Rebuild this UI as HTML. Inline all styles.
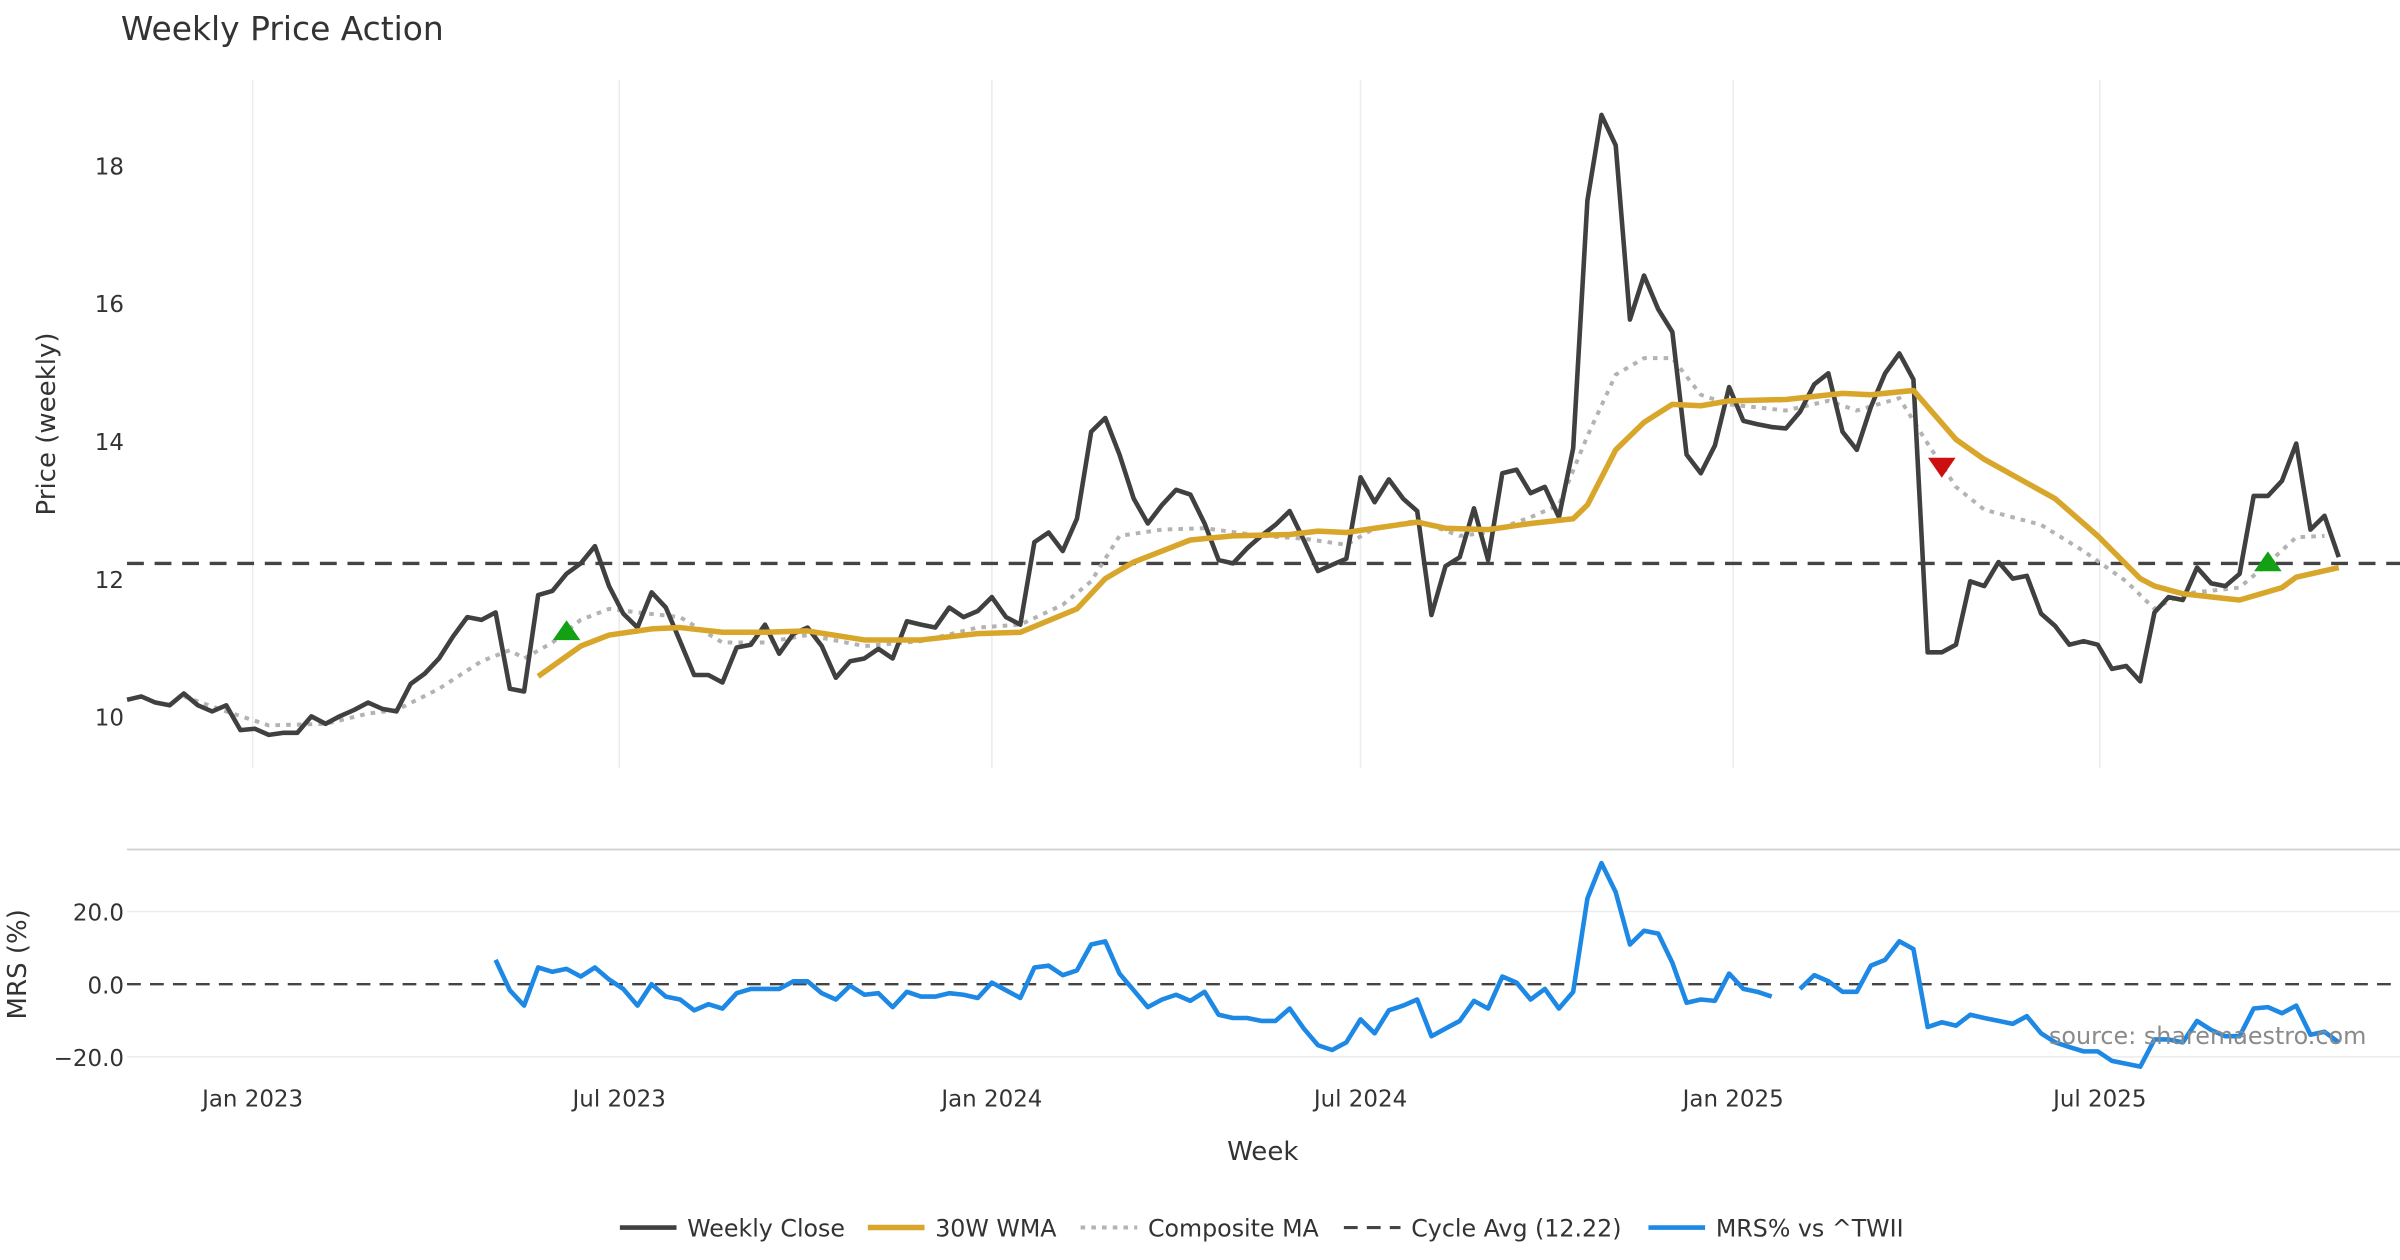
<!DOCTYPE html>
<html><head><meta charset="utf-8"><style>
html,body{margin:0;padding:0;background:#fff;}
svg{display:block;font-family:"DejaVu Sans","Liberation Sans",sans-serif;}
</style></head><body>
<svg id="chart" width="2400" height="1260" viewBox="0 0 1568 823.2" xmlns="http://www.w3.org/2000/svg">
<text x="79" y="26" font-size="21.5" fill="#333">Weekly Price Action</text>
<g id="grid"></g>
<g id="series"></g>
<text transform="translate(36,277) rotate(-90)" text-anchor="middle" font-size="17" fill="#333">Price (weekly)</text>
<text transform="translate(17,630) rotate(-90)" text-anchor="middle" font-size="17" fill="#333">MRS (%)</text>
<text x="825" y="758" text-anchor="middle" font-size="17" fill="#333">Week</text>
<text x="1546" y="682" text-anchor="end" font-size="15.6" fill="#8a8a8a">source: sharemaestro.com</text>
<g id="legend"></g>
</svg>
<script>
const startDate = "2022-10-31";
const closeValues = [10.24,10.29,10.20,10.16,10.33,10.16,10.07,10.16,9.80,9.82,
9.73,9.76,9.76,10.00,9.89,10.00,10.09,10.20,10.11,10.07,
10.47,10.62,10.84,11.16,11.44,11.40,11.51,10.40,10.36,11.76,
11.82,12.07,12.22,12.47,11.89,11.49,11.29,11.80,11.58,11.09,
10.60,10.60,10.49,11.00,11.04,11.33,10.91,11.20,11.29,11.02,
10.56,10.80,10.84,10.98,10.84,11.38,11.33,11.29,11.58,11.44,
11.53,11.73,11.44,11.33,12.53,12.67,12.40,12.87,14.13,14.33,
13.80,13.16,12.80,13.07,13.29,13.22,12.80,12.27,12.22,12.44,
12.62,12.78,12.98,12.56,12.11,12.20,12.29,13.47,13.11,13.44,
13.16,12.98,11.47,12.18,12.31,13.02,12.27,13.53,13.58,13.24,
13.33,12.89,13.89,17.49,18.73,18.29,15.76,16.40,15.91,15.58,
13.80,13.53,13.93,14.78,14.29,14.24,14.20,14.18,14.42,14.82,
14.98,14.13,13.87,14.49,14.98,15.27,14.89,10.93,10.93,11.04,
11.96,11.89,12.24,12.00,12.04,11.49,11.31,11.04,11.09,11.04,
10.69,10.73,10.51,11.51,11.73,11.69,12.16,11.93,11.89,12.07,
13.20,13.20,13.42,13.96,12.71,12.91,12.31];
const wmaWeeks = [29,32,34,37,39,42,45,48,52,56,60,63,67,69,71,75,78,82,84,86,88,91,93,96,99,102,103,105,107,109,111,113,117,121,123,126,129,131,136,139,142,143,145,148,149,152,153,156];
const wmaValues = [10.58,11.02,11.18,11.27,11.29,11.22,11.22,11.24,11.11,11.11,11.20,11.22,11.56,12.00,12.24,12.56,12.62,12.64,12.69,12.67,12.73,12.82,12.73,12.71,12.80,12.87,13.07,13.87,14.27,14.53,14.51,14.58,14.60,14.69,14.67,14.73,14.02,13.73,13.16,12.62,12.00,11.89,11.78,11.71,11.69,11.87,12.02,12.16];
const compWeeks = [4,7,10,14,17,19,22,25,27,28,30,32,34,36,39,42,45,48,52,56,60,63,66,68,70,73,76,80,83,86,88,91,94,96,99,101,103,105,107,109,111,113,117,120,122,125,127,129,131,135,138,141,143,145,149,151,153,155];
const compValues = [10.29,10.07,9.87,9.89,10.04,10.09,10.40,10.80,10.96,10.84,11.07,11.40,11.56,11.51,11.44,11.07,11.07,11.18,11.02,11.09,11.29,11.33,11.62,11.96,12.62,12.71,12.73,12.62,12.58,12.49,12.73,12.84,12.62,12.67,12.89,13.07,14.07,14.96,15.20,15.20,14.67,14.53,14.44,14.58,14.44,14.62,13.96,13.33,13.00,12.78,12.40,11.96,11.56,11.78,11.87,12.22,12.60,12.62];
const cycleAvg = 12.22;
const mrsStart = 26;
const mrsValues = [6.7,-1.7,-5.9,4.6,3.4,4.2,2.1,4.6,1.3,-1.3,
-5.9,0,-3.4,-4.2,-7.2,-5.5,-6.7,-2.5,-1.3,-1.3,
-1.3,0.8,0.8,-2.5,-4.2,-0.4,-2.9,-2.5,-6.3,-2.1,
-3.4,-3.4,-2.5,-2.9,-3.8,0.4,-1.7,-3.8,4.6,5.1,
2.5,3.8,10.9,11.8,2.9,-1.7,-6.3,-4.2,-2.9,-4.6,
-2.1,-8.4,-9.3,-9.3,-10.1,-10.1,-6.7,-12.2,-16.8,-18.1,
-16.0,-9.7,-13.5,-7.2,-5.9,-4.2,-14.3,-12.2,-10.1,-4.6,
-6.7,2.1,0.4,-4.2,-1.3,-6.7,-2.1,23.6,33.3,25.3,
10.9,14.7,13.9,5.9,-5.1,-4.2,-4.6,2.9,-1.3,-2.1,
-3.4,null,
-1.3,2.5,0.8,-2.1,-2.1,5.1,6.7,11.8,9.7,-11.8,
-10.5,-11.4,-8.4,-9.3,-10.1,-10.9,-8.8,-13.5,-16.0,-17.3,
-18.5,-18.5,-21.1,-21.9,-22.7,-15.2,-15.2,-16.0,-10.1,-12.6,
-14.3,-14.3,-6.7,-6.3,-8.0,-5.9,-13.9,-13.1,-16.0];
const buyWeeks = [31,151];
const buyPrices = [11.24,12.24];
const sellWeeks = [128];
const sellPrices = [13.62];
const xTickLabels = ["Jan 2023","Jul 2023","Jan 2024","Jul 2024","Jan 2025","Jul 2025"];
const xTickDates = ["2023-01-01","2023-07-01","2024-01-01","2024-07-01","2025-01-01","2025-07-01"];
const priceTicks = [10,12,14,16,18];
const mrsTicks = [20,0,-20];
const mrsTickLabels = ["20.0","0.0","\u221220.0"];

const NS="http://www.w3.org/2000/svg";
const X0=83, STEP=(1528-83)/156;
function xW(i){return X0+i*STEP;}
function xDate(s){return xW((Date.parse(s)-Date.parse(startDate))/864e5/7);}
function yP(p){return 468-(p-10)*45;}
function yM(v){return 643-v*2.375;}
function mk(tag,attrs,parent){const e=document.createElementNS(NS,tag);for(const k in attrs)e.setAttribute(k,attrs[k]);parent.appendChild(e);return e;}
const grid=document.getElementById('grid'), ser=document.getElementById('series'), leg=document.getElementById('legend');

xTickLabels.forEach((lab,k)=>{
  const x=xDate(xTickDates[k]);
  const l=mk('line',{x1:x,x2:x,y1:52,y2:502,stroke:'#ececec','stroke-width':1},grid);
  
  
  const t=mk('text',{x:x,y:723,'text-anchor':'middle','font-size':15,fill:'#333'},grid);
  t.textContent=lab;
  
  
});
priceTicks.forEach(p=>{
  const t=mk('text',{x:81,y:yP(p)+6,'text-anchor':'end','font-size':15,fill:'#333'},grid);
  t.textContent=p;
  
  
});
const sep=mk('line',{x1:83,x2:1568,y1:555,y2:555,stroke:'#cfcfcf','stroke-width':1.2},grid);


mrsTicks.forEach((v,k)=>{
  if(v!==0){const g=mk('line',{x1:83,x2:1568,y1:yM(v),y2:yM(v),stroke:'#ececec','stroke-width':1},grid);
  
  }
  const t=mk('text',{x:81,y:yM(v)+6,'text-anchor':'end','font-size':15,fill:'#333'},grid);
  t.textContent=mrsTickLabels[k];
  
  
});
const z=mk('line',{x1:83,x2:1568,y1:yM(0),y2:yM(0),stroke:'#444','stroke-width':1.6,'stroke-dasharray':'9,6'},grid);



const cyc=mk('line',{x1:83,x2:1568,y1:yP(cycleAvg),y2:yP(cycleAvg),stroke:'#444','stroke-width':2.2,'stroke-dasharray':'11,7'},ser);



function pts(ws,vs,yf){return ws.map((w,k)=>xW(w).toFixed(1)+','+yf(vs[k]).toFixed(1)).join(' ');}
const comp=mk('polyline',{points:pts(compWeeks,compValues,yP),fill:'none',stroke:'#b3b3b3','stroke-width':2.6,'stroke-dasharray':'3,4'},ser);


const cw=closeValues.map((v,i)=>i);
const cl=mk('polyline',{points:pts(cw,closeValues,yP),fill:'none',stroke:'#404040','stroke-width':3,'stroke-linejoin':'round'},ser);


const wma=mk('polyline',{points:pts(wmaWeeks,wmaValues,yP),fill:'none',stroke:'#d8a62a','stroke-width':3.6,'stroke-linejoin':'round'},ser);



let segs=[],cur=[];
mrsValues.forEach((v,k)=>{if(v===null){if(cur.length)segs.push(cur);cur=[];}else cur.push(xW(mrsStart+k).toFixed(1)+','+yM(v).toFixed(1));});
if(cur.length)segs.push(cur);
segs.forEach(s=>{
  const m=mk('polyline',{points:s.join(' '),fill:'none',stroke:'#1e88e5','stroke-width':3,'stroke-linejoin':'round'},ser);
  
  
});
buyWeeks.forEach((w,k)=>{
  const x=xW(w),y=yP(buyPrices[k]);
  const t=mk('polygon',{points:`${x-9},${y+6} ${x+9},${y+6} ${x},${y-7}`,fill:'#14a014'},ser);
  
  
});
sellWeeks.forEach((w,k)=>{
  const x=xW(w),y=yP(sellPrices[k]);
  const t=mk('polygon',{points:`${x-9},${y-6} ${x+9},${y-6} ${x},${y+7}`,fill:'#cc1010'},ser);
  
  
});

const legendLabels=["Weekly Close","30W WMA","Composite MA","Cycle Avg (12.22)","MRS% vs ^TWII"];
const legendX=[405,567,706,878,1077];
const legendStyles=[["#404040",3,""],["#d8a62a",3.6,""],["#b3b3b3",2.6,"3,4"],["#444",2,"9,6"],["#1e88e5",3,""]];
legendLabels.forEach((lab,k)=>{
  const g=mk('g',{},leg);
  
  
  const st=legendStyles[k];
  const a={x1:legendX[k],x2:legendX[k]+37,y1:802,y2:802,stroke:st[0],'stroke-width':st[1]};
  if(st[2])a['stroke-dasharray']=st[2];
  mk('line',a,g);
  const t=mk('text',{x:legendX[k]+44,y:808,'font-size':15.5,fill:'#333'},g);
  t.textContent=lab;
});
</script>
</body></html>
